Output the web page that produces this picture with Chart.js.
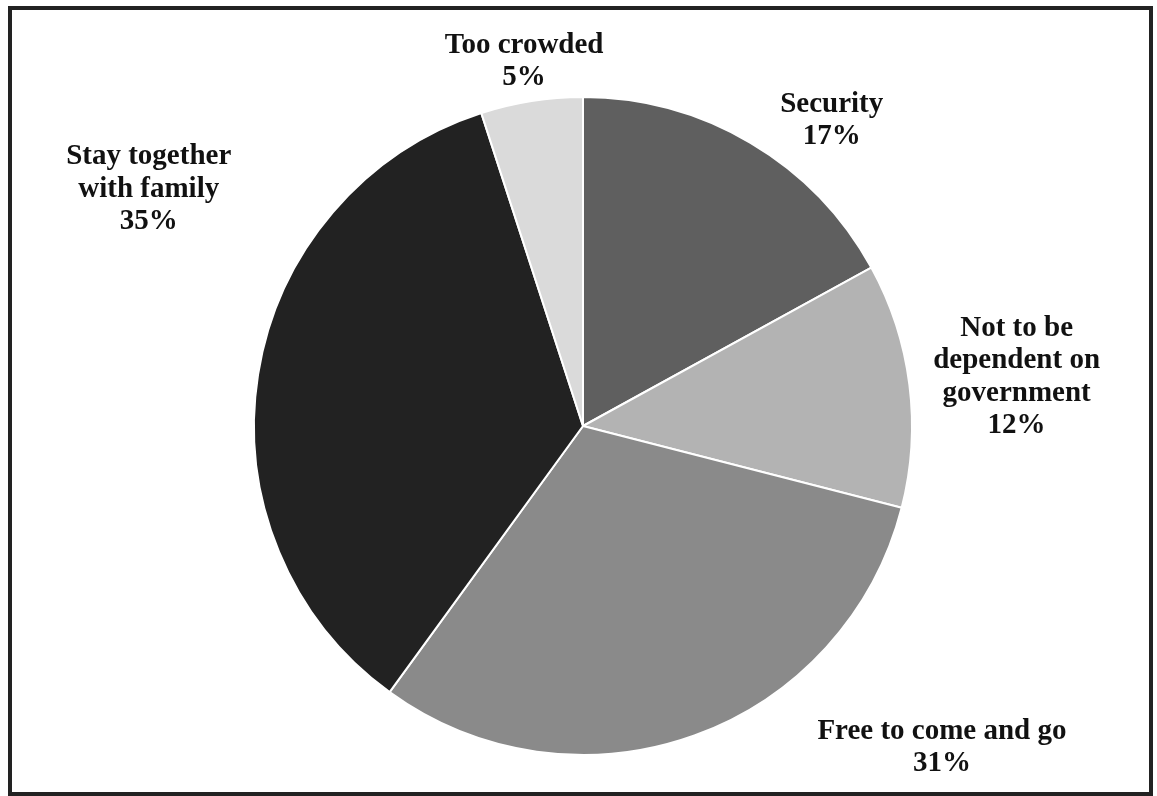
<!DOCTYPE html>
<html>
<head>
<meta charset="utf-8">
<script src="https://cdn.jsdelivr.net/npm/chart.js@4"></script>
<style>
  html, body { margin: 0; padding: 0; background: #fff; }
  #wrap { width: 1157px; height: 796px; }
</style>
</head>
<body>
<div id="wrap"><canvas id="myChart" width="1157" height="796"></canvas></div>
<script>
const labels = [
    ['Security'],
    ['Not to be', 'dependent on', 'government'],
    ['Free to come and go'],
    ['Stay together', 'with family'],
    ['Too crowded']
];
const values = [17, 12, 31, 35, 5];
const colors = ['#5f5f5f', '#b3b3b3', '#8a8a8a', '#222222', '#dadada'];

// label block centres, in pie radii from the pie centre
const labelSpots = [
    [0.756, -0.935],
    [1.318, -0.155],
    [1.091, 0.971],
    [-1.320, -0.726],
    [-0.179, -1.114]
];

const frame = {
    id: 'frame',
    afterDraw(chart) {
        const c = chart.ctx;
        c.save();
        c.strokeStyle = '#222';
        c.lineWidth = 4;
        c.strokeRect(10, 8, 1141, 786);
        c.restore();
    }
};

const sliceLabels = {
    id: 'sliceLabels',
    afterDatasetsDraw(chart) {
        const c = chart.ctx;
        const arcs = chart.getDatasetMeta(0).data;
        const fs = 29, lh = 32.5, cap = fs * 0.66;
        c.save();
        c.font = 'bold ' + fs + 'px "Liberation Serif", "Times New Roman", serif';
        c.fillStyle = '#111';
        c.textAlign = 'center';
        c.textBaseline = 'alphabetic';
        arcs.forEach((arc, i) => {
            const r = arc.outerRadius;
            const x = arc.x + labelSpots[i][0] * r;
            const y = arc.y + labelSpots[i][1] * r;
            const lines = labels[i].concat([values[i] + '%']);
            const h = cap + (lines.length - 1) * lh;
            const first = y - h / 2 + cap;
            lines.forEach((t, k) => c.fillText(t, x, first + k * lh));
        });
        c.restore();
    }
};

const ctx = document.getElementById('myChart').getContext('2d');
const chart = new Chart(ctx, {
    type: 'pie',
    data: {
        labels: labels.map(l => l.join(' ')),
        datasets: [{
            data: values,
            backgroundColor: colors,
            borderColor: '#ffffff',
            borderWidth: 2
        }]
    },
    options: {
        responsive: false,
        animation: false,
        layout: {
            padding: { left: 253, right: 244, top: 96, bottom: 40 }
        },
        plugins: {
            legend: { display: false },
            tooltip: { enabled: false }
        }
    },
    plugins: [sliceLabels, frame]
});
</script>
</body>
</html>
